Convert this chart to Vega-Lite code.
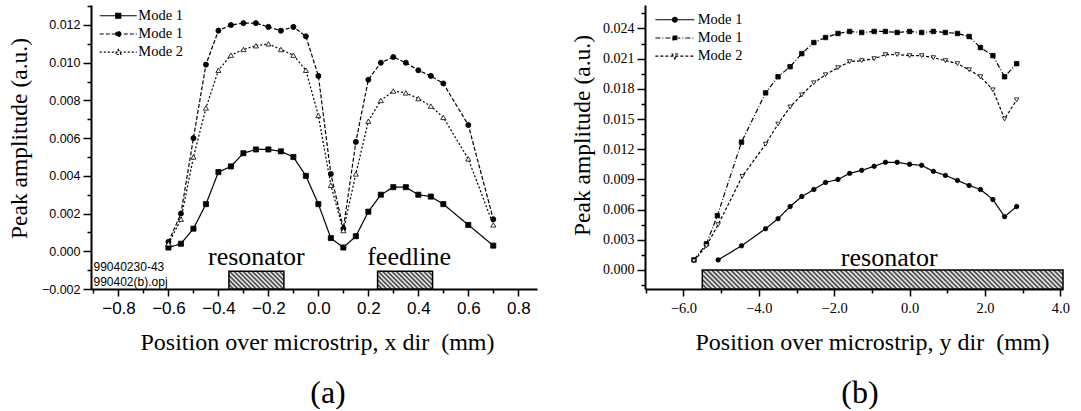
{
  "$schema": "https://vega.github.io/schema/vega-lite/v6.json",
  "background": "white",
  "padding": {"left": 7, "top": 0, "right": 0, "bottom": 0},
  "bounds": "flush",
  "spacing": 108,
  "resolve": {"scale": {"strokeDash": "independent", "shape": "independent", "fill": "independent", "stroke": "independent"}},
  "config": {
    "view": {"stroke": null},
    "axis": {"grid": false, "domainColor": "black", "tickColor": "black", "labelColor": "black", "titleColor": "black", "domainWidth": 2, "tickWidth": 1.5, "titleFontWeight": "normal", "labelFlush": false, "labelOverlap": false}
  },
  "datasets": {
    "a_bars": [
      {"x": -0.358, "xe": -0.138, "y": -0.002, "ye": -0.00106},
      {"x": 0.237, "xe": 0.457, "y": -0.002, "ye": -0.00106}
    ],
    "a_text": [
      {"x": -0.248, "y": -0.00074, "t": "resonator"},
      {"x": 0.363, "y": -0.00074, "t": "feedline"}
    ],
    "a_note": [
      {"x": -0.9, "y": -0.00106, "t": "99040230-43"},
      {"x": -0.9, "y": -0.00186, "t": "990402(b).opj"}
    ],
    "a_series": [
      {"s": "a", "x": -0.6, "y": 0.0002}, {"s": "a", "x": -0.55, "y": 0.0004}, {"s": "a", "x": -0.5, "y": 0.0012}, {"s": "a", "x": -0.45, "y": 0.0025}, {"s": "a", "x": -0.4, "y": 0.0042}, {"s": "a", "x": -0.35, "y": 0.0045}, {"s": "a", "x": -0.3, "y": 0.0052}, {"s": "a", "x": -0.25, "y": 0.0054}, {"s": "a", "x": -0.2, "y": 0.0054}, {"s": "a", "x": -0.15, "y": 0.0053}, {"s": "a", "x": -0.1, "y": 0.005}, {"s": "a", "x": -0.05, "y": 0.004}, {"s": "a", "x": 0, "y": 0.0025}, {"s": "a", "x": 0.05, "y": 0.0007}, {"s": "a", "x": 0.1, "y": 0.0002}, {"s": "a", "x": 0.15, "y": 0.0008}, {"s": "a", "x": 0.2, "y": 0.0021}, {"s": "a", "x": 0.25, "y": 0.003}, {"s": "a", "x": 0.3, "y": 0.0034}, {"s": "a", "x": 0.35, "y": 0.0034}, {"s": "a", "x": 0.4, "y": 0.003}, {"s": "a", "x": 0.45, "y": 0.0029}, {"s": "a", "x": 0.5, "y": 0.0025}, {"s": "a", "x": 0.6, "y": 0.0014}, {"s": "a", "x": 0.7, "y": 0.0003},
      {"s": "b", "x": -0.6, "y": 0.0005}, {"s": "b", "x": -0.55, "y": 0.002}, {"s": "b", "x": -0.5, "y": 0.006}, {"s": "b", "x": -0.45, "y": 0.0099}, {"s": "b", "x": -0.4, "y": 0.0117}, {"s": "b", "x": -0.35, "y": 0.012}, {"s": "b", "x": -0.3, "y": 0.0121}, {"s": "b", "x": -0.25, "y": 0.0121}, {"s": "b", "x": -0.2, "y": 0.0119}, {"s": "b", "x": -0.15, "y": 0.0117}, {"s": "b", "x": -0.1, "y": 0.0119}, {"s": "b", "x": -0.05, "y": 0.0114}, {"s": "b", "x": 0, "y": 0.0093}, {"s": "b", "x": 0.05, "y": 0.0041}, {"s": "b", "x": 0.1, "y": 0.0012}, {"s": "b", "x": 0.15, "y": 0.0058}, {"s": "b", "x": 0.2, "y": 0.0091}, {"s": "b", "x": 0.25, "y": 0.01}, {"s": "b", "x": 0.3, "y": 0.0103}, {"s": "b", "x": 0.35, "y": 0.01}, {"s": "b", "x": 0.4, "y": 0.0096}, {"s": "b", "x": 0.45, "y": 0.0093}, {"s": "b", "x": 0.5, "y": 0.0089}, {"s": "b", "x": 0.6, "y": 0.0067}, {"s": "b", "x": 0.7, "y": 0.0017},
      {"s": "c", "x": -0.6, "y": 0.0004}, {"s": "c", "x": -0.55, "y": 0.0017}, {"s": "c", "x": -0.5, "y": 0.005}, {"s": "c", "x": -0.45, "y": 0.0076}, {"s": "c", "x": -0.4, "y": 0.0096}, {"s": "c", "x": -0.35, "y": 0.0104}, {"s": "c", "x": -0.3, "y": 0.0107}, {"s": "c", "x": -0.25, "y": 0.0109}, {"s": "c", "x": -0.2, "y": 0.011}, {"s": "c", "x": -0.15, "y": 0.0107}, {"s": "c", "x": -0.1, "y": 0.0104}, {"s": "c", "x": -0.05, "y": 0.0096}, {"s": "c", "x": 0, "y": 0.0072}, {"s": "c", "x": 0.05, "y": 0.0035}, {"s": "c", "x": 0.1, "y": 0.0011}, {"s": "c", "x": 0.15, "y": 0.0041}, {"s": "c", "x": 0.2, "y": 0.0069}, {"s": "c", "x": 0.25, "y": 0.008}, {"s": "c", "x": 0.3, "y": 0.0085}, {"s": "c", "x": 0.35, "y": 0.0084}, {"s": "c", "x": 0.4, "y": 0.0081}, {"s": "c", "x": 0.45, "y": 0.0077}, {"s": "c", "x": 0.5, "y": 0.0071}, {"s": "c", "x": 0.6, "y": 0.0049}, {"s": "c", "x": 0.7, "y": 0.0014}
    ],
    "b_bars": [
      {"x": -5.5, "xe": 4.07, "y": -0.00189, "ye": 0}
    ],
    "b_text": [
      {"x": -0.54, "y": 0.0004, "t": "resonator"}
    ],
    "b_series": [
      {"s": "a", "x": -5.08, "y": 0.001}, {"s": "a", "x": -4.46, "y": 0.0024}, {"s": "a", "x": -3.82, "y": 0.0041}, {"s": "a", "x": -3.49, "y": 0.0051}, {"s": "a", "x": -3.17, "y": 0.0063}, {"s": "a", "x": -2.86, "y": 0.0073}, {"s": "a", "x": -2.54, "y": 0.008}, {"s": "a", "x": -2.23, "y": 0.0087}, {"s": "a", "x": -1.9, "y": 0.009}, {"s": "a", "x": -1.59, "y": 0.0096}, {"s": "a", "x": -1.27, "y": 0.0099}, {"s": "a", "x": -0.94, "y": 0.0103}, {"s": "a", "x": -0.64, "y": 0.0107}, {"s": "a", "x": -0.33, "y": 0.0107}, {"s": "a", "x": 0, "y": 0.0105}, {"s": "a", "x": 0.32, "y": 0.0104}, {"s": "a", "x": 0.63, "y": 0.0098}, {"s": "a", "x": 0.95, "y": 0.0094}, {"s": "a", "x": 1.27, "y": 0.0089}, {"s": "a", "x": 1.58, "y": 0.0084}, {"s": "a", "x": 1.88, "y": 0.008}, {"s": "a", "x": 2.21, "y": 0.007}, {"s": "a", "x": 2.52, "y": 0.0053}, {"s": "a", "x": 2.84, "y": 0.0063},
      {"s": "b", "x": -5.72, "y": 0.001}, {"s": "b", "x": -5.39, "y": 0.0026}, {"s": "b", "x": -5.1, "y": 0.0054}, {"s": "b", "x": -4.46, "y": 0.0127}, {"s": "b", "x": -3.82, "y": 0.0176}, {"s": "b", "x": -3.49, "y": 0.0192}, {"s": "b", "x": -3.17, "y": 0.0202}, {"s": "b", "x": -2.86, "y": 0.0215}, {"s": "b", "x": -2.54, "y": 0.0226}, {"s": "b", "x": -2.23, "y": 0.0231}, {"s": "b", "x": -1.9, "y": 0.0235}, {"s": "b", "x": -1.59, "y": 0.0237}, {"s": "b", "x": -1.27, "y": 0.0236}, {"s": "b", "x": -0.94, "y": 0.0237}, {"s": "b", "x": -0.64, "y": 0.0237}, {"s": "b", "x": -0.33, "y": 0.0236}, {"s": "b", "x": 0, "y": 0.0237}, {"s": "b", "x": 0.32, "y": 0.0236}, {"s": "b", "x": 0.63, "y": 0.0237}, {"s": "b", "x": 0.95, "y": 0.0236}, {"s": "b", "x": 1.27, "y": 0.0235}, {"s": "b", "x": 1.58, "y": 0.0232}, {"s": "b", "x": 1.88, "y": 0.0221}, {"s": "b", "x": 2.21, "y": 0.0213}, {"s": "b", "x": 2.52, "y": 0.0192}, {"s": "b", "x": 2.84, "y": 0.0205},
      {"s": "c", "x": -5.72, "y": 0.0009}, {"s": "c", "x": -5.39, "y": 0.0024}, {"s": "c", "x": -5.08, "y": 0.0045}, {"s": "c", "x": -4.44, "y": 0.0093}, {"s": "c", "x": -3.82, "y": 0.0125}, {"s": "c", "x": -3.49, "y": 0.0145}, {"s": "c", "x": -3.17, "y": 0.0162}, {"s": "c", "x": -2.86, "y": 0.0174}, {"s": "c", "x": -2.54, "y": 0.0186}, {"s": "c", "x": -2.23, "y": 0.0194}, {"s": "c", "x": -1.9, "y": 0.0201}, {"s": "c", "x": -1.59, "y": 0.0207}, {"s": "c", "x": -1.27, "y": 0.0208}, {"s": "c", "x": -0.94, "y": 0.021}, {"s": "c", "x": -0.64, "y": 0.0214}, {"s": "c", "x": -0.33, "y": 0.0214}, {"s": "c", "x": 0, "y": 0.0213}, {"s": "c", "x": 0.32, "y": 0.0213}, {"s": "c", "x": 0.63, "y": 0.0211}, {"s": "c", "x": 0.95, "y": 0.0208}, {"s": "c", "x": 1.27, "y": 0.0205}, {"s": "c", "x": 1.58, "y": 0.0199}, {"s": "c", "x": 1.88, "y": 0.0192}, {"s": "c", "x": 2.21, "y": 0.0179}, {"s": "c", "x": 2.52, "y": 0.015}, {"s": "c", "x": 2.84, "y": 0.0169}
    ]
  },
  "hconcat": [
    {
      "width": 446,
      "height": 284,
      "title": {"text": "(a)", "orient": "bottom", "anchor": "middle", "font": "Liberation Serif", "fontSize": 32, "fontWeight": "normal", "color": "black", "dx": 14, "offset": 24},
      "resolve": {"scale": {"shape": "independent", "strokeDash": "independent", "fill": "independent", "stroke": "independent"}},
      "encoding": {
        "x": {"field": "x", "type": "quantitative",
          "scale": {"domain": [-0.91, 0.875], "nice": false, "zero": false},
          "axis": {"values": [-0.9, -0.8, -0.7, -0.6, -0.5, -0.4, -0.3, -0.2, -0.1, 0, 0.1, 0.2, 0.3, 0.4, 0.5, 0.6, 0.7, 0.8],
            "labelExpr": "round(datum.value*10) % 2 == 0 ? format(datum.value, '.1f') : ''",
            "tickSize": {"condition": {"test": "round(datum.value*10) % 2 == 0", "value": 7}, "value": 4},
            "labelFont": "Liberation Sans", "labelFontSize": 17, "labelPadding": 4,
            "title": "Position over microstrip, x dir\u00a0 (mm)", "titleFont": "Liberation Serif", "titleFontSize": 24,
            "titleBaseline": "alphabetic", "titleX": 226, "titleY": 60}},
        "y": {"field": "y", "type": "quantitative",
          "scale": {"domain": [-0.002, 0.01306], "nice": false, "zero": false},
          "axis": {"values": [-0.002, -0.001, 0, 0.001, 0.002, 0.003, 0.004, 0.005, 0.006, 0.007, 0.008, 0.009, 0.01, 0.011, 0.012, 0.013],
            "labelExpr": "round(datum.value*1000) % 2 == 0 ? format(datum.value, '.3f') : ''",
            "tickSize": {"condition": {"test": "round(datum.value*1000) % 2 == 0", "value": 8}, "value": 4},
            "labelFont": "Liberation Sans", "labelFontSize": 12.5, "labelPadding": 3,
            "title": "Peak amplitude (a.u.)", "titleFont": "Liberation Serif", "titleFontSize": 23.5,
            "titleAngle": 270, "titleAlign": "center", "titleBaseline": "middle", "titleX": -72, "titleY": 133}}
      },
      "layer": [
        {"data": {"name": "a_bars"}, "mark": {"type": "rect", "stroke": "black", "strokeWidth": 1.5,
          "fill": {"gradient": "linear", "x1": 0, "y1": 1, "x2": 1.198, "y2": 0.614, "stops": [
            {"offset": 0, "color": "#333"}, {"offset": 0.03125, "color": "#fff"}, {"offset": 0.0625, "color": "#333"}, {"offset": 0.09375, "color": "#fff"},
            {"offset": 0.125, "color": "#333"}, {"offset": 0.15625, "color": "#fff"}, {"offset": 0.1875, "color": "#333"}, {"offset": 0.21875, "color": "#fff"},
            {"offset": 0.25, "color": "#333"}, {"offset": 0.28125, "color": "#fff"}, {"offset": 0.3125, "color": "#333"}, {"offset": 0.34375, "color": "#fff"},
            {"offset": 0.375, "color": "#333"}, {"offset": 0.40625, "color": "#fff"}, {"offset": 0.4375, "color": "#333"}, {"offset": 0.46875, "color": "#fff"},
            {"offset": 0.5, "color": "#333"}, {"offset": 0.53125, "color": "#fff"}, {"offset": 0.5625, "color": "#333"}, {"offset": 0.59375, "color": "#fff"},
            {"offset": 0.625, "color": "#333"}, {"offset": 0.65625, "color": "#fff"}, {"offset": 0.6875, "color": "#333"}, {"offset": 0.71875, "color": "#fff"},
            {"offset": 0.75, "color": "#333"}, {"offset": 0.78125, "color": "#fff"}, {"offset": 0.8125, "color": "#333"}, {"offset": 0.84375, "color": "#fff"},
            {"offset": 0.875, "color": "#333"}, {"offset": 0.90625, "color": "#fff"}, {"offset": 0.9375, "color": "#333"}, {"offset": 0.96875, "color": "#fff"},
            {"offset": 1, "color": "#333"}]}},
          "encoding": {"x2": {"field": "xe"}, "y2": {"field": "ye"}}},
        {"data": {"name": "a_text"}, "mark": {"type": "text", "font": "Liberation Serif", "fontSize": 26, "baseline": "alphabetic", "align": "center", "color": "black"},
          "encoding": {"text": {"field": "t"}}},
        {"data": {"name": "a_note"}, "mark": {"type": "text", "font": "Liberation Sans", "fontSize": 12, "baseline": "alphabetic", "align": "left", "color": "black"},
          "encoding": {"text": {"field": "t"}}},
        {"data": {"name": "a_series"}, "mark": {"type": "line", "color": "black", "strokeWidth": 1.2},
          "encoding": {"strokeDash": {"field": "s", "type": "nominal",
            "scale": {"domain": ["a", "b", "c"], "range": [[1, 0], [4, 2], [2, 2]]}, "legend": null}}},
        {"data": {"name": "a_series"}, "mark": {"type": "point", "filled": true, "stroke": "black", "strokeWidth": 0.8, "opacity": 1, "size": 26},
          "encoding": {
            "shape": {"field": "s", "type": "nominal", "scale": {"domain": ["a", "b", "c"], "range": ["square", "circle", "triangle-up"]}, "legend": null},
            "fill": {"field": "s", "type": "nominal", "scale": {"domain": ["a", "b", "c"], "range": ["black", "black", "white"]}, "legend": null}}},
        {"data": {"values": []}, "mark": {"type": "point", "filled": true, "stroke": "black", "strokeWidth": 1.1, "size": 85.6},
          "encoding": {
            "shape": {"field": "s", "type": "nominal",
              "scale": {"domain": ["a", "b", "c"], "range": ["M-4,0L4,0M-0.55,-0.55L0.55,-0.55L0.55,0.55L-0.55,0.55Z", "M-4,0L4,0M0.55,0A0.55,0.55,0,1,1,-0.55,0A0.55,0.55,0,1,1,0.55,0Z", "M-4,0L4,0M0,-0.6L0.6,0.5L-0.6,0.5Z"]},
              "legend": {"title": null, "orient": "none", "legendX": 20, "legendY": 3.5, "padding": 0, "labelExpr": "datum.value == 'c' ? 'Mode 2' : 'Mode 1'", "labelFont": "Liberation Serif", "labelFontSize": 14.5, "labelColor": "black", "labelOffset": 12.8, "symbolSize": 85.6, "symbolStrokeWidth": 1.1, "symbolStrokeColor": "black", "symbolOpacity": 1, "rowPadding": 3.2}},
            "strokeDash": {"field": "s", "type": "nominal",
              "scale": {"domain": ["a", "b", "c"], "range": [[1, 0], [4, 2], [2, 2]]},
              "legend": {"title": null, "orient": "none", "legendX": 20, "legendY": 3.5, "padding": 0, "labelExpr": "datum.value == 'c' ? 'Mode 2' : 'Mode 1'", "labelFont": "Liberation Serif", "labelFontSize": 14.5, "labelColor": "black", "labelOffset": 12.8, "symbolSize": 85.6, "symbolStrokeWidth": 1.1, "symbolStrokeColor": "black", "symbolOpacity": 1, "rowPadding": 3.2}},
            "fill": {"field": "s", "type": "nominal",
              "scale": {"domain": ["a", "b", "c"], "range": ["black", "black", "white"]},
              "legend": {"title": null, "orient": "none", "legendX": 20, "legendY": 3.5, "padding": 0, "labelExpr": "datum.value == 'c' ? 'Mode 2' : 'Mode 1'", "labelFont": "Liberation Serif", "labelFontSize": 14.5, "labelColor": "black", "labelOffset": 12.8, "symbolSize": 85.6, "symbolStrokeWidth": 1.1, "symbolStrokeColor": "black", "symbolOpacity": 1, "rowPadding": 3.2}},
            "stroke": {"field": "s", "type": "nominal",
              "scale": {"domain": ["a", "b", "c"], "range": ["black", "black", "black"]},
              "legend": {"title": null, "orient": "none", "legendX": 20, "legendY": 3.5, "padding": 0, "labelExpr": "datum.value == 'c' ? 'Mode 2' : 'Mode 1'", "labelFont": "Liberation Serif", "labelFontSize": 14.5, "labelColor": "black", "labelOffset": 12.8, "symbolSize": 85.6, "symbolStrokeWidth": 1.1, "symbolStrokeColor": "black", "symbolOpacity": 1, "rowPadding": 3.2}}}}
      ]
    },
    {
      "width": 418,
      "height": 284,
      "title": {"text": "(b)", "orient": "bottom", "anchor": "middle", "font": "Liberation Serif", "fontSize": 32, "fontWeight": "normal", "color": "black", "dx": 6, "offset": 24},
      "resolve": {"scale": {"shape": "independent", "strokeDash": "independent", "fill": "independent", "stroke": "independent"}},
      "encoding": {
        "x": {"field": "x", "type": "quantitative",
          "scale": {"domain": [-7.02, 4.07], "nice": false, "zero": false},
          "axis": {"values": [-7, -6, -5, -4, -3, -2, -1, 0, 1, 2, 3, 4],
            "labelExpr": "round(datum.value) % 2 == 0 ? format(datum.value, '.1f') : ''",
            "tickSize": {"condition": {"test": "round(datum.value) % 2 == 0", "value": 7}, "value": 4},
            "labelFont": "Liberation Serif", "labelFontSize": 14.5, "labelPadding": 5,
            "title": "Position over microstrip, y dir\u00a0 (mm)", "titleFont": "Liberation Serif", "titleFontSize": 24,
            "titleBaseline": "alphabetic", "titleX": 227, "titleY": 60}},
        "y": {"field": "y", "type": "quantitative",
          "scale": {"domain": [-0.00189, 0.02633], "nice": false, "zero": false},
          "axis": {"values": [-0.0015, 0, 0.0015, 0.003, 0.0045, 0.006, 0.0075, 0.009, 0.0105, 0.012, 0.0135, 0.015, 0.0165, 0.018, 0.0195, 0.021, 0.0225, 0.024, 0.0255],
            "labelExpr": "round(datum.value*10000) % 30 == 0 ? format(datum.value, '.3f') : ''",
            "tickSize": {"condition": {"test": "round(datum.value*10000) % 30 == 0", "value": 8}, "value": 4},
            "labelFont": "Liberation Serif", "labelFontSize": 14, "labelPadding": 3,
            "title": "Peak amplitude (a.u.)", "titleFont": "Liberation Serif", "titleFontSize": 23.5,
            "titleAngle": 270, "titleAlign": "center", "titleBaseline": "middle", "titleX": -63, "titleY": 130}}
      },
      "layer": [
        {"data": {"name": "b_bars"}, "mark": {"type": "rect", "stroke": "black", "strokeWidth": 1.5,
          "fill": {"gradient": "linear", "x1": 0, "y1": 1, "x2": 1.0498, "y2": 0.9447, "stops": [
            {"offset": 0, "color": "#333"}, {"offset": 0.00625, "color": "#fff"}, {"offset": 0.0125, "color": "#333"}, {"offset": 0.01875, "color": "#fff"}, {"offset": 0.025, "color": "#333"}, {"offset": 0.03125, "color": "#fff"}, {"offset": 0.0375, "color": "#333"}, {"offset": 0.04375, "color": "#fff"}, {"offset": 0.05, "color": "#333"}, {"offset": 0.05625, "color": "#fff"}, {"offset": 0.0625, "color": "#333"}, {"offset": 0.06875, "color": "#fff"}, {"offset": 0.075, "color": "#333"}, {"offset": 0.08125, "color": "#fff"}, {"offset": 0.0875, "color": "#333"}, {"offset": 0.09375, "color": "#fff"},
            {"offset": 0.1, "color": "#333"}, {"offset": 0.10625, "color": "#fff"}, {"offset": 0.1125, "color": "#333"}, {"offset": 0.11875, "color": "#fff"}, {"offset": 0.125, "color": "#333"}, {"offset": 0.13125, "color": "#fff"}, {"offset": 0.1375, "color": "#333"}, {"offset": 0.14375, "color": "#fff"}, {"offset": 0.15, "color": "#333"}, {"offset": 0.15625, "color": "#fff"}, {"offset": 0.1625, "color": "#333"}, {"offset": 0.16875, "color": "#fff"}, {"offset": 0.175, "color": "#333"}, {"offset": 0.18125, "color": "#fff"}, {"offset": 0.1875, "color": "#333"}, {"offset": 0.19375, "color": "#fff"},
            {"offset": 0.2, "color": "#333"}, {"offset": 0.20625, "color": "#fff"}, {"offset": 0.2125, "color": "#333"}, {"offset": 0.21875, "color": "#fff"}, {"offset": 0.225, "color": "#333"}, {"offset": 0.23125, "color": "#fff"}, {"offset": 0.2375, "color": "#333"}, {"offset": 0.24375, "color": "#fff"}, {"offset": 0.25, "color": "#333"}, {"offset": 0.25625, "color": "#fff"}, {"offset": 0.2625, "color": "#333"}, {"offset": 0.26875, "color": "#fff"}, {"offset": 0.275, "color": "#333"}, {"offset": 0.28125, "color": "#fff"}, {"offset": 0.2875, "color": "#333"}, {"offset": 0.29375, "color": "#fff"},
            {"offset": 0.3, "color": "#333"}, {"offset": 0.30625, "color": "#fff"}, {"offset": 0.3125, "color": "#333"}, {"offset": 0.31875, "color": "#fff"}, {"offset": 0.325, "color": "#333"}, {"offset": 0.33125, "color": "#fff"}, {"offset": 0.3375, "color": "#333"}, {"offset": 0.34375, "color": "#fff"}, {"offset": 0.35, "color": "#333"}, {"offset": 0.35625, "color": "#fff"}, {"offset": 0.3625, "color": "#333"}, {"offset": 0.36875, "color": "#fff"}, {"offset": 0.375, "color": "#333"}, {"offset": 0.38125, "color": "#fff"}, {"offset": 0.3875, "color": "#333"}, {"offset": 0.39375, "color": "#fff"},
            {"offset": 0.4, "color": "#333"}, {"offset": 0.40625, "color": "#fff"}, {"offset": 0.4125, "color": "#333"}, {"offset": 0.41875, "color": "#fff"}, {"offset": 0.425, "color": "#333"}, {"offset": 0.43125, "color": "#fff"}, {"offset": 0.4375, "color": "#333"}, {"offset": 0.44375, "color": "#fff"}, {"offset": 0.45, "color": "#333"}, {"offset": 0.45625, "color": "#fff"}, {"offset": 0.4625, "color": "#333"}, {"offset": 0.46875, "color": "#fff"}, {"offset": 0.475, "color": "#333"}, {"offset": 0.48125, "color": "#fff"}, {"offset": 0.4875, "color": "#333"}, {"offset": 0.49375, "color": "#fff"},
            {"offset": 0.5, "color": "#333"}, {"offset": 0.50625, "color": "#fff"}, {"offset": 0.5125, "color": "#333"}, {"offset": 0.51875, "color": "#fff"}, {"offset": 0.525, "color": "#333"}, {"offset": 0.53125, "color": "#fff"}, {"offset": 0.5375, "color": "#333"}, {"offset": 0.54375, "color": "#fff"}, {"offset": 0.55, "color": "#333"}, {"offset": 0.55625, "color": "#fff"}, {"offset": 0.5625, "color": "#333"}, {"offset": 0.56875, "color": "#fff"}, {"offset": 0.575, "color": "#333"}, {"offset": 0.58125, "color": "#fff"}, {"offset": 0.5875, "color": "#333"}, {"offset": 0.59375, "color": "#fff"},
            {"offset": 0.6, "color": "#333"}, {"offset": 0.60625, "color": "#fff"}, {"offset": 0.6125, "color": "#333"}, {"offset": 0.61875, "color": "#fff"}, {"offset": 0.625, "color": "#333"}, {"offset": 0.63125, "color": "#fff"}, {"offset": 0.6375, "color": "#333"}, {"offset": 0.64375, "color": "#fff"}, {"offset": 0.65, "color": "#333"}, {"offset": 0.65625, "color": "#fff"}, {"offset": 0.6625, "color": "#333"}, {"offset": 0.66875, "color": "#fff"}, {"offset": 0.675, "color": "#333"}, {"offset": 0.68125, "color": "#fff"}, {"offset": 0.6875, "color": "#333"}, {"offset": 0.69375, "color": "#fff"},
            {"offset": 0.7, "color": "#333"}, {"offset": 0.70625, "color": "#fff"}, {"offset": 0.7125, "color": "#333"}, {"offset": 0.71875, "color": "#fff"}, {"offset": 0.725, "color": "#333"}, {"offset": 0.73125, "color": "#fff"}, {"offset": 0.7375, "color": "#333"}, {"offset": 0.74375, "color": "#fff"}, {"offset": 0.75, "color": "#333"}, {"offset": 0.75625, "color": "#fff"}, {"offset": 0.7625, "color": "#333"}, {"offset": 0.76875, "color": "#fff"}, {"offset": 0.775, "color": "#333"}, {"offset": 0.78125, "color": "#fff"}, {"offset": 0.7875, "color": "#333"}, {"offset": 0.79375, "color": "#fff"},
            {"offset": 0.8, "color": "#333"}, {"offset": 0.80625, "color": "#fff"}, {"offset": 0.8125, "color": "#333"}, {"offset": 0.81875, "color": "#fff"}, {"offset": 0.825, "color": "#333"}, {"offset": 0.83125, "color": "#fff"}, {"offset": 0.8375, "color": "#333"}, {"offset": 0.84375, "color": "#fff"}, {"offset": 0.85, "color": "#333"}, {"offset": 0.85625, "color": "#fff"}, {"offset": 0.8625, "color": "#333"}, {"offset": 0.86875, "color": "#fff"}, {"offset": 0.875, "color": "#333"}, {"offset": 0.88125, "color": "#fff"}, {"offset": 0.8875, "color": "#333"}, {"offset": 0.89375, "color": "#fff"},
            {"offset": 0.9, "color": "#333"}, {"offset": 0.90625, "color": "#fff"}, {"offset": 0.9125, "color": "#333"}, {"offset": 0.91875, "color": "#fff"}, {"offset": 0.925, "color": "#333"}, {"offset": 0.93125, "color": "#fff"}, {"offset": 0.9375, "color": "#333"}, {"offset": 0.94375, "color": "#fff"}, {"offset": 0.95, "color": "#333"}, {"offset": 0.95625, "color": "#fff"}, {"offset": 0.9625, "color": "#333"}, {"offset": 0.96875, "color": "#fff"}, {"offset": 0.975, "color": "#333"}, {"offset": 0.98125, "color": "#fff"}, {"offset": 0.9875, "color": "#333"}, {"offset": 0.99375, "color": "#fff"},
            {"offset": 1, "color": "#333"}]}},
          "encoding": {"x2": {"field": "xe"}, "y2": {"field": "ye"}}},
        {"data": {"name": "b_text"}, "mark": {"type": "text", "font": "Liberation Serif", "fontSize": 26, "baseline": "alphabetic", "align": "center", "color": "black"},
          "encoding": {"text": {"field": "t"}}},
        {"data": {"name": "b_series"}, "mark": {"type": "line", "color": "black", "strokeWidth": 1.2},
          "encoding": {"strokeDash": {"field": "s", "type": "nominal",
            "scale": {"domain": ["a", "b", "c"], "range": [[1, 0], [5, 2, 1, 2], [3, 2]]}, "legend": null}}},
        {"data": {"name": "b_series"}, "mark": {"type": "point", "filled": true, "stroke": "black", "strokeWidth": 0.8, "opacity": 1, "size": 20},
          "encoding": {
            "shape": {"field": "s", "type": "nominal", "scale": {"domain": ["a", "b", "c"], "range": ["circle", "square", "triangle-down"]}, "legend": null},
            "fill": {"field": "s", "type": "nominal", "scale": {"domain": ["a", "b", "c"], "range": ["black", "black", "white"]}, "legend": null}}},
        {"data": {"values": []}, "mark": {"type": "point", "filled": true, "stroke": "black", "strokeWidth": 1.1, "size": 95},
          "encoding": {
            "shape": {"field": "s", "type": "nominal",
              "scale": {"domain": ["a", "b", "c"], "range": ["M-4,0L4,0M0.5,0A0.5,0.5,0,1,1,-0.5,0A0.5,0.5,0,1,1,0.5,0Z", "M-4,0L4,0M-0.4,-0.4L0.4,-0.4L0.4,0.4L-0.4,0.4Z", "M-4,0L4,0M0,0.55L0.55,-0.45L-0.55,-0.45Z"]},
              "legend": {"title": null, "orient": "none", "legendX": 22.6, "legendY": 7.5, "padding": 0, "labelExpr": "datum.value == 'c' ? 'Mode 2' : 'Mode 1'", "labelFont": "Liberation Serif", "labelFontSize": 14.5, "labelColor": "black", "labelOffset": 15.6, "symbolSize": 95, "symbolStrokeWidth": 1.1, "symbolStrokeColor": "black", "symbolOpacity": 1, "rowPadding": 3.2}},
            "strokeDash": {"field": "s", "type": "nominal",
              "scale": {"domain": ["a", "b", "c"], "range": [[1, 0], [5, 2, 1, 2], [3, 2]]},
              "legend": {"title": null, "orient": "none", "legendX": 22.6, "legendY": 7.5, "padding": 0, "labelExpr": "datum.value == 'c' ? 'Mode 2' : 'Mode 1'", "labelFont": "Liberation Serif", "labelFontSize": 14.5, "labelColor": "black", "labelOffset": 15.6, "symbolSize": 95, "symbolStrokeWidth": 1.1, "symbolStrokeColor": "black", "symbolOpacity": 1, "rowPadding": 3.2}},
            "fill": {"field": "s", "type": "nominal",
              "scale": {"domain": ["a", "b", "c"], "range": ["black", "black", "white"]},
              "legend": {"title": null, "orient": "none", "legendX": 22.6, "legendY": 7.5, "padding": 0, "labelExpr": "datum.value == 'c' ? 'Mode 2' : 'Mode 1'", "labelFont": "Liberation Serif", "labelFontSize": 14.5, "labelColor": "black", "labelOffset": 15.6, "symbolSize": 95, "symbolStrokeWidth": 1.1, "symbolStrokeColor": "black", "symbolOpacity": 1, "rowPadding": 3.2}},
            "stroke": {"field": "s", "type": "nominal",
              "scale": {"domain": ["a", "b", "c"], "range": ["black", "black", "black"]},
              "legend": {"title": null, "orient": "none", "legendX": 22.6, "legendY": 7.5, "padding": 0, "labelExpr": "datum.value == 'c' ? 'Mode 2' : 'Mode 1'", "labelFont": "Liberation Serif", "labelFontSize": 14.5, "labelColor": "black", "labelOffset": 15.6, "symbolSize": 95, "symbolStrokeWidth": 1.1, "symbolStrokeColor": "black", "symbolOpacity": 1, "rowPadding": 3.2}}}}
      ]
    }
  ]
}
